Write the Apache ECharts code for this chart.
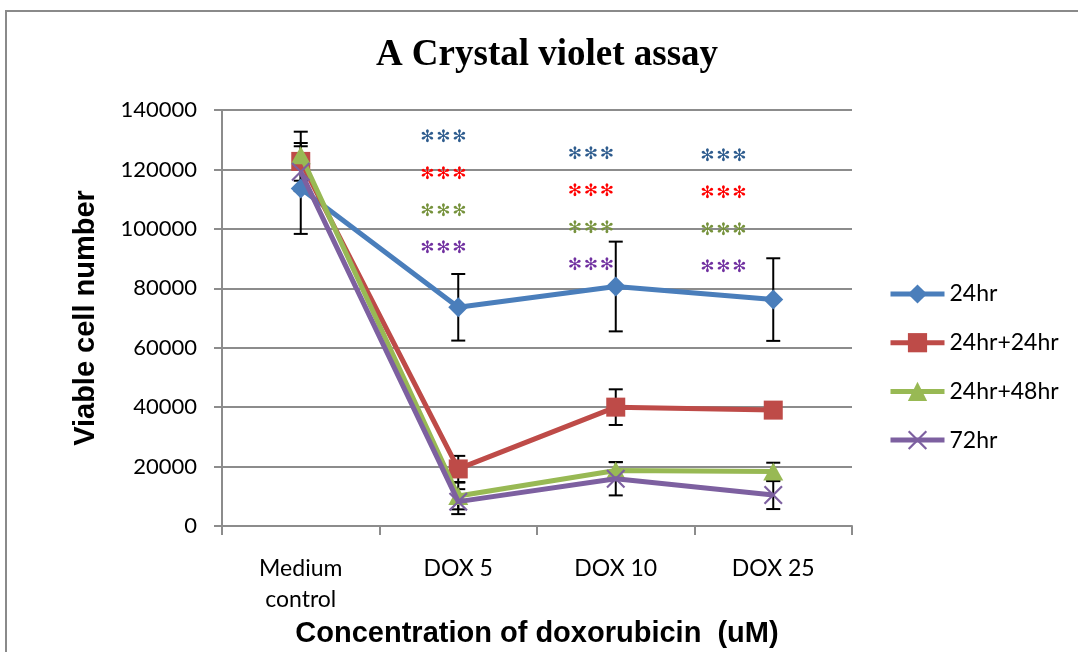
<!DOCTYPE html>
<html>
<head>
<meta charset="utf-8">
<script src="https://cdn.jsdelivr.net/npm/echarts@6/dist/echarts.min.js"></script>
<style>
  html, body { margin: 0; padding: 0; background: #ffffff; }
  #chart { width: 1078px; height: 652px; }
</style>
</head>
<body>
<div id="chart"></div>
<script>
// Crystal violet assay: viable cell counts after doxorubicin exposure
const categories = ['Medium\ncontrol', 'DOX 5', 'DOX 10', 'DOX 25'];
const seriesNames = ['24hr', '24hr+24hr', '24hr+48hr', '72hr'];

const mean24 = [113600, 73600, 80600, 76200];
const mean2424 = [122700, 19200, 40000, 39000];
const mean2448 = [124800, 10100, 18700, 18300];
const mean72 = [119200, 8200, 15900, 10400];

const err24 = [15300, 11200, 15100, 13900];
const err2424 = [10000, 4400, 6000, 1500];
const err2448 = [3000, 4500, 2800, 3000];
const err72 = [3000, 4200, 5600, 4700];

const yTicks = { min: 0, max: 140000, interval: 20000 };

// significance marks above the three doxorubicin groups, one row per series
const sigGroups = ['DOX 5', 'DOX 10', 'DOX 25'];
const sigText = ['***', '***', '***', '***'];

const colors = ['#4A7EBB', '#BE4B48', '#98B954', '#7D60A0'];
const sigColors = ['#2E5C8E', '#FF0000', '#76923C', '#7030A0'];

const crossPath = 'path://M0,1.6 L1.6,0 L10,8.4 L18.4,0 L20,1.6 L11.6,10 L20,18.4 L18.4,20 L10,11.6 L1.6,20 L0,18.4 L8.4,10 Z';
const symbols = [
  { symbol: 'diamond', size: 20 },
  { symbol: 'rect', size: 19 },
  { symbol: 'triangle', size: [20, 18] },
  { symbol: crossPath, size: 19 }
];

const means = [mean24, mean2424, mean2448, mean72];
const errs = [err24, err2424, err2448, err72];

const chart = echarts.init(document.getElementById('chart'), null, { renderer: 'canvas' });

function errorBarItem(params, api) {
  const x = api.value(0);
  const m = api.value(1);
  const e = api.value(2);
  const hi = api.coord([x, m + e]);
  const lo = api.coord([x, m - e]);
  const w = 7;
  const style = { stroke: '#000000', lineWidth: 2 };
  return {
    type: 'group',
    children: [
      { type: 'line', shape: { x1: hi[0], y1: hi[1], x2: lo[0], y2: lo[1] }, style },
      { type: 'line', shape: { x1: hi[0] - w, y1: hi[1], x2: hi[0] + w, y2: hi[1] }, style },
      { type: 'line', shape: { x1: lo[0] - w, y1: lo[1], x2: lo[0] + w, y2: lo[1] }, style }
    ]
  };
}

const series = [];
seriesNames.forEach(function (name, i) {
  series.push({
    type: 'custom',
    name: name + ' error',
    renderItem: errorBarItem,
    data: means[i].map(function (v, k) { return [k, v, errs[i][k]]; }),
    encode: { x: 0, y: 1 },
    z: 1,
    silent: true
  });
});
seriesNames.forEach(function (name, i) {
  series.push({
    type: 'line',
    name: name,
    data: means[i],
    symbol: symbols[i].symbol,
    symbolSize: symbols[i].size,
    showAllSymbol: true,
    lineStyle: { color: colors[i], width: 5 },
    itemStyle: { color: colors[i], borderWidth: 0 },
    z: 2 + i,
    animation: false
  });
});

const gridGrey = '#8C8C8C';

chart.setOption({
  animation: false,
  backgroundColor: '#ffffff',
  title: {
    text: 'A Crystal violet assay',
    left: 547,
    top: 37,
    padding: 0,
    textAlign: 'center',
    textStyle: { fontFamily: 'Liberation Serif', fontWeight: 'bold', fontSize: 37, color: '#000000' }
  },
  grid: { left: 222, right: 226, top: 110, bottom: 126, containLabel: false, outerBoundsMode: 'none' },
  legend: {
    data: seriesNames,
    orient: 'vertical',
    left: 888,
    top: 282,
    padding: 0,
    itemWidth: 54,
    itemHeight: 24,
    itemGap: 24.7,
    lineStyle: { width: 5 },
    textStyle: { fontFamily: 'Lato', fontSize: 23, color: '#000000', lineHeight: 24 }
  },
  xAxis: {
    type: 'category',
    data: categories,
    boundaryGap: true,
    name: 'Concentration of doxorubicin  (uM)',
    nameLocation: 'middle',
    nameGap: 93,
    nameTextStyle: { fontFamily: 'Liberation Sans', fontWeight: 'bold', fontSize: 29, color: '#000000' },
    axisLine: { lineStyle: { color: gridGrey, width: 2 } },
    axisTick: { show: true, alignWithLabel: false, length: 9, lineStyle: { color: gridGrey, width: 2 } },
    axisLabel: { fontFamily: 'Lato', fontSize: 23, color: '#000000', margin: 27, lineHeight: 31, interval: 0 }
  },
  yAxis: {
    type: 'value',
    min: yTicks.min,
    max: yTicks.max,
    interval: yTicks.interval,
    name: 'Viable cell number',
    nameLocation: 'middle',
    nameGap: 122,
    nameTextStyle: { fontFamily: 'Liberation Sans', fontWeight: 'bold', fontSize: 29, color: '#000000' },
    axisLine: { show: true, lineStyle: { color: gridGrey, width: 2 } },
    axisTick: { show: true, length: 8, lineStyle: { color: gridGrey, width: 2 } },
    axisLabel: {
      fontFamily: 'Lato', fontSize: 22, color: '#000000', margin: 25,
      formatter: function (v) { return String(v); }
    },
    splitLine: { show: true, lineStyle: { color: gridGrey, width: 2 } }
  },
  series: series
});

// outer chart border plus significance asterisks
const graphics = [{
  type: 'rect',
  shape: { x: 6, y: 11, width: 1100, height: 700 },
  style: { fill: null, stroke: '#8A8A8A', lineWidth: 2 },
  silent: true,
  z: 0
}];

// horizontal shift of each asterisk block from its category centre, and row spacing
const sigShift = [-15, -25, -50];
const sigTop = [138, 155, 157];
const rowStep = 37;
const starStep = 16;
sigGroups.forEach(function (group, g) {
  const cx = chart.convertToPixel({ xAxisIndex: 0 }, group) + sigShift[g];
  sigText.forEach(function (txt, r) {
    const y = sigTop[g] + r * rowStep;
    for (let s = 0; s < txt.length; s++) {
      graphics.push({
        type: 'text',
        x: cx + (s - 1) * starStep,
        y: y,
        style: {
          text: '\u273B',
          fill: sigColors[r],
          font: '17px "DejaVu Sans"',
          textAlign: 'center',
          textVerticalAlign: 'middle'
        },
        silent: true,
        z: 10
      });
    }
  });
});
chart.setOption({ graphic: graphics });
</script>
</body>
</html>
